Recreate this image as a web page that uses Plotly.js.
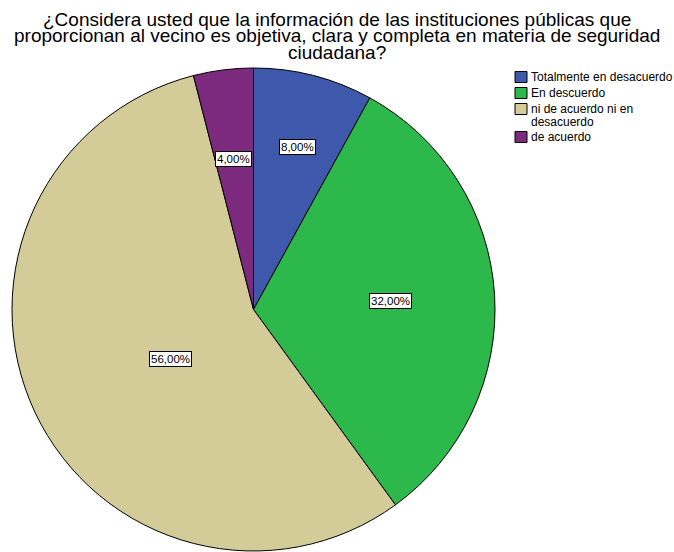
<!DOCTYPE html>
<html><head><meta charset="utf-8">
<script src="https://cdn.plot.ly/plotly-3.0.1.min.js"></script>
<style>html,body{margin:0;padding:0;background:#fff;overflow:hidden}</style>
</head><body>
<div id="chart" style="width:674px;height:552px"></div>
<script>
const categories = ["Totalmente en desacuerdo", "En descuerdo", "ni de acuerdo ni en<br>desacuerdo", "de acuerdo"];
const percents = [8, 32, 56, 4];
const sliceColors = ["#3e58ab", "#2db84c", "#d3cc99", "#7c2a7e"];
const labelRadius = [0.73, 0.57, 0.48, 0.66];
const titleLines = [
  "¿Considera usted que la información de las instituciones públicas que",
  "proporcionan al vecino es objetiva, clara y completa en materia de seguridad",
  "ciudadana?"
];

const W = 674, H = 552;
const FONT = "Liberation Sans, Arial, sans-serif";
const dom = {x: [12 / W, 495 / W], y: [1 / H, 1 - 68 / H]};
const cx = (dom.x[0] + dom.x[1]) / 2 * W;
const rad = Math.min((dom.x[1] - dom.x[0]) * W, (dom.y[1] - dom.y[0]) * H) / 2;
const cy = H - (dom.y[0] + dom.y[1]) / 2 * H;

const annotations = [];
const shapes = [];

// title lines
titleLines.forEach((t, i) => {
  annotations.push({
    x: 0.5, y: 1 - (19.5 + i * 16.5) / H, xref: "paper", yref: "paper",
    xanchor: "center", yanchor: "middle", text: t, showarrow: false,
    font: {family: FONT, size: 19, color: "#000"}
  });
});

// slice value labels
const total = percents.reduce((a, b) => a + b, 0);
let cum = 0;
percents.forEach((v, i) => {
  const mid = (cum + v / 2) / total * 2 * Math.PI;
  cum += v;
  const r = rad * labelRadius[i];
  const px = cx + Math.sin(mid) * r;
  const py = cy - Math.cos(mid) * r;
  annotations.push({
    x: px / W, y: 1 - py / H, xref: "paper", yref: "paper",
    text: v.toFixed(2).replace(".", ",") + "%", showarrow: false,
    font: {family: FONT, size: 11.5, color: "#000"},
    bgcolor: "#fff", bordercolor: "#000", borderwidth: 1, borderpad: 1
  });
});

// legend (swatches + text), built from categories and colours
let ly = 77;
categories.forEach((c, i) => {
  const lines = c.split("<br>");
  shapes.push({
    type: "rect", xref: "paper", yref: "paper",
    x0: 515 / W, x1: 527 / W, y0: 1 - (ly + 5.5) / H, y1: 1 - (ly - 5.5) / H,
    fillcolor: sliceColors[i], line: {color: "#000", width: 1}
  });
  lines.forEach((t, j) => {
    annotations.push({
      x: 529 / W, y: 1 - (ly + j * 12.5) / H, xref: "paper", yref: "paper",
      xanchor: "left", yanchor: "middle", text: t, showarrow: false,
      font: {family: FONT, size: 12, color: "#000"}
    });
  });
  ly += 16 + (lines.length - 1) * 12;
});

Plotly.newPlot("chart", [{
  type: "pie",
  labels: categories,
  values: percents,
  sort: false,
  direction: "clockwise",
  rotation: 0,
  textinfo: "none",
  hoverinfo: "label+percent",
  marker: {colors: sliceColors, line: {color: "#000", width: 1}},
  domain: dom
}], {
  width: W, height: H,
  margin: {l: 0, r: 0, t: 0, b: 0, autoexpand: false},
  paper_bgcolor: "#fff",
  showlegend: false,
  annotations: annotations,
  shapes: shapes
}, {displayModeBar: false, staticPlot: true});
</script>
</body></html>
